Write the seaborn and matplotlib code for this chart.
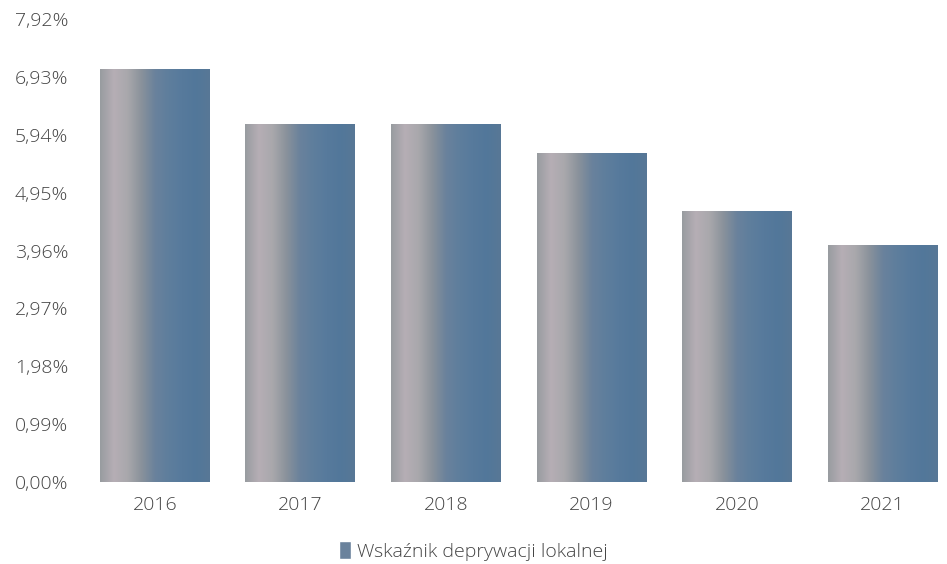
import numpy as np
import pandas as pd
import matplotlib
matplotlib.use('Agg')
import matplotlib.pyplot as plt
from matplotlib.colors import LinearSegmentedColormap
from matplotlib.patches import Patch
from matplotlib.ticker import FuncFormatter
import seaborn as sns

# datos
anios = ['2016', '2017', '2018', '2019', '2020', '2021']
valores = [7.06, 6.12, 6.12, 5.63, 4.64, 4.06]
ticks_y = [0.00, 0.99, 1.98, 2.97, 3.96, 4.95, 5.94, 6.93, 7.92]
serie = 'Wskaźnik deprywacji lokalnej'

df = pd.DataFrame({'Rok': anios, 'Wartosc': valores})

sns.set_style('white')
plt.rcParams['font.family'] = ['Open Sans', 'DejaVu Sans']

fig = plt.figure(figsize=(9.47, 5.64), dpi=100)
ax = fig.add_axes([0.0866, 0.1454, 0.913, 0.8209])

sns.barplot(data=df, x='Rok', y='Wartosc', color='#6a829c', width=0.755, ax=ax)

# degradado horizontal gris -> azul dentro de cada barra
grad_cols = ['#989ca0', '#b6aeb5', '#a9a8ac', '#8a929b', '#6a829c',
             '#5e7e9d', '#577a9c', '#52779a', '#587896']
cmap = LinearSegmentedColormap.from_list('barra', grad_cols)
grad = np.linspace(0, 1, 256).reshape(1, -1)
for p in ax.patches:
    x0, y0 = p.get_x(), p.get_y()
    w, h = p.get_width(), p.get_height()
    im = ax.imshow(grad, extent=[x0, x0 + w, y0, y0 + h], aspect='auto',
                   cmap=cmap, zorder=p.get_zorder() + 0.1, interpolation='bicubic')
    im.set_clip_path(p)

ax.set_xlim(-0.5, 5.44)
ax.set_ylim(0, 7.92)
ax.set_yticks(ticks_y)
ax.yaxis.set_major_formatter(FuncFormatter(lambda v, pos: f'{v:.2f}%'.replace('.', ',')))
ax.set_xlabel('')
ax.set_ylabel('')
sns.despine(ax=ax, left=True, bottom=True)
ax.tick_params(axis='both', length=0, labelsize=14, colors='#444444')
ax.tick_params(axis='y', pad=10)
ax.tick_params(axis='x', pad=10)
for t in ax.get_xticklabels() + ax.get_yticklabels():
    t.set_fontweight('light')

leg = fig.legend(handles=[Patch(facecolor='#6a829c', label=serie)], loc='lower center',
                 bbox_to_anchor=(0.5, -0.025), frameon=False, fontsize=14,
                 handlelength=0.6, handleheight=1.1, handletextpad=0.3, labelcolor='#444444')
for t in leg.get_texts():
    t.set_fontweight('light')

fig.savefig('out.png', dpi=100)
plt.close()
